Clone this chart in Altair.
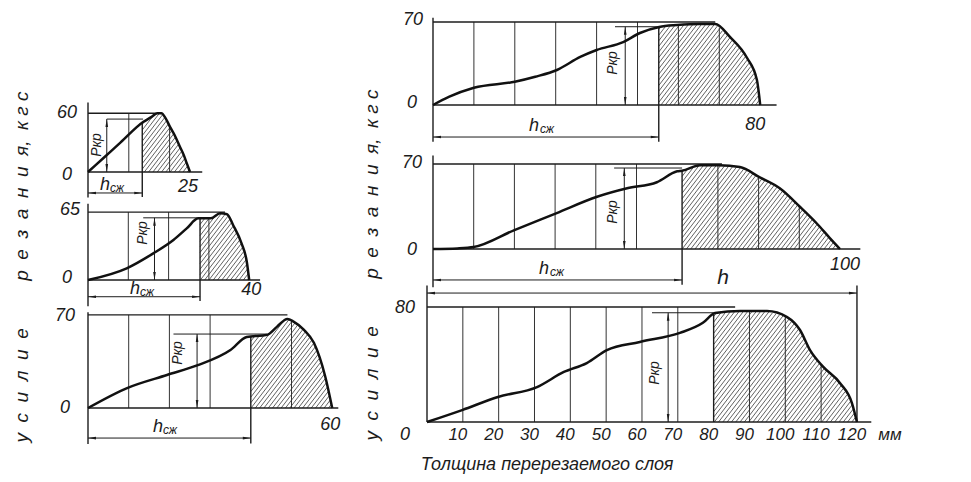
import altair as alt
import numpy as np
import pandas as pd

# ---------------- values ----------------
# cutting force curves: layer thickness (mm) -> force (kgf)
L1_x = [0, 4, 8, 13.5, 15.5, 17, 18, 19, 20.1, 21.3, 22.5, 23.5, 24.2, 25]
L1_y = [0, 15.1, 30.2, 51, 56, 60, 60, 55, 46, 37, 26, 17, 9, 0]

L2_x = [0, 9.6, 16.2, 21.2, 24.5, 27.4, 30.5, 32.8, 34.5, 36, 38.1, 39.4, 40]
L2_y = [0, 11.2, 25.5, 38.3, 49.4, 59, 59, 63.8, 63, 52.6, 35, 17.5, 0]

L3_x = [0, 9.6, 19.4, 26.8, 35, 39, 44, 46.4, 49, 50.5, 53, 55.5, 58.3, 60]
L3_y = [0, 15, 24.8, 32, 43.6, 53.4, 55, 61, 67, 65, 59, 49, 23.5, 0]

R1_x = [0, 4, 10, 20, 25, 30.3, 36, 40, 46.5, 50.6, 55.3, 59.7, 65.3, 69, 72.6, 76.8, 79.2, 80]
R1_y = [0, 7, 14.5, 19.6, 23.8, 29.5, 40.5, 46.4, 53, 60.7, 65.8, 67.4, 68.3, 68.3, 57.4, 39.6, 21, 0]

R2_x = [0, 6, 10, 20, 30.4, 40.3, 47.7, 55, 60, 61.2, 65.6, 70.3, 75.4, 80.3, 85.2, 90.2, 94.3, 97.5, 100]
R2_y = [0, 0.5, 1.6, 15.6, 29.6, 43, 50, 55, 64, 64.5, 69, 69, 67.5, 59, 50, 34.6, 21, 9, 0]

R3_x = [0, 9.8, 19.8, 30.7, 38.2, 44.6, 50.2, 59.4, 70.6, 77, 80.4, 87.4, 94.9, 100.5, 104.1, 106.9, 110.6, 115.3, 118.6, 120]
R3_y = [0, 8.3, 17.4, 24.3, 34.8, 41, 50, 55.7, 62, 69, 75.8, 77.2, 77.2, 73, 64, 50, 38.3, 27, 13.2, 0]

# panel values: x end, y top, h_szh (start of hatched zone), grid lines
X_MAX = {"L1": 25, "L2": 40, "L3": 60, "R1": 80, "R2": 100, "R3": 120}
Y_MAX = {"L1": 60, "L2": 65, "L3": 70, "R1": 70, "R2": 70, "R3": 80}
H_SZH = {"L1": 13.3, "L2": 27.8, "L3": 40, "R1": 55.2, "R2": 61.2, "R3": 80}
GRID = {"L1": [10, 20], "L2": [10, 20, 30], "L3": [10, 20, 30, 50],
        "R1": [10, 20, 30, 40, 50, 60, 70], "R2": [10, 20, 30, 40, 50, 70, 80, 90],
        "R3": [10, 20, 30, 40, 50, 60, 70, 90, 100, 110]}
TOP_END = {"L1": 17.5, "L2": 34, "L3": 49, "R1": 69, "R2": 71, "R3": 86}
# P_kr arrow: x, level, horizontal line from..to
PKR = {"L1": (4.6, 54, 4.6, 13.5), "L2": (16.5, 59.5, 13.7, 30), "L3": (26.8, 55.6, 21, 44),
       "R1": (47, 66, 44.5, 55.2), "R2": (47, 66.7, 44.5, 61.2), "R3": (67.3, 76, 62.8, 80)}
# dimension line levels (below axis) and axis line extents
DIM_Y = {"L1": -21.4, "L2": -16, "L3": -22.6, "R1": -27, "R2": -25.5}
AXIS_EXT = {"L1": (-26, 71), "L2": (-25, 73), "L3": (-27, 72), "R1": (-31, 73.5),
            "R2": (-31.5, 77), "R3": (0, 95)}
BASE_END = {"L1": 28, "L2": 42.7, "L3": 61.5, "R1": 84, "R2": 105, "R3": 124}
H_DIM = 89.7  # overall h dimension (bottom panel units)
X_TICKS = [10, 20, 30, 40, 50, 60, 70, 80, 90, 100, 110, 120]
CURVES = {"L1": (L1_x, L1_y), "L2": (L2_x, L2_y), "L3": (L3_x, L3_y),
          "R1": (R1_x, R1_y), "R2": (R2_x, R2_y), "R3": (R3_x, R3_y)}
NB = "\u00a0"
Y_TITLE = (NB * 2).join("усилие") + NB * 9 + (NB * 2).join("резания") + "," + NB * 2 + NB.join("кгс")
X_TITLE = "Толщина перерезаемого слоя"

# ---------------- layout (page pixels: origin x, origin y, px per mm, px per kgf) ----------------
LAYOUT = {"L1": (88, 172, 4.08, 0.98), "L2": (88, 280, 4.03, 1.045), "L3": (88, 408, 4.07, 1.33),
          "R1": (433, 105, 4.09, 1.186), "R2": (433, 249, 4.07, 1.214), "R3": (427, 422, 3.583, 1.4375)}
# text labels: (anchor x, anchor y, dx px, dy px, text, font size, angle)
LABELS = {
    "L1": [(0, 60, -21, 0, "60", 18, 0), (0, 0, -21, 3, "0", 18, 0), (25, 0, -2, 15, "25", 18, 0),
           (0, 0, 9, -27, "Pкр", 14, 270), (0, 0, 17, 13, "h", 18, 0), (0, 0, 29, 16, "сж", 12, 0)],
    "L2": [(0, 65, -18, -2, "65", 18, 0), (0, 0, -21, -2, "0", 18, 0), (40, 0, 2, 10, "40", 18, 0),
           (0, 0, 55, -47, "Pкр", 14, 270), (0, 0, 47, 9, "h", 18, 0), (0, 0, 59, 12, "сж", 12, 0),
           (0, 0, -66, -13, Y_TITLE, 19, 270)],
    "L3": [(0, 70, -23, 1, "70", 18, 0), (0, 0, -23, 0, "0", 18, 0), (60, 0, -2, 17, "60", 18, 0),
           (0, 0, 90, -55, "Pкр", 14, 270), (0, 0, 70, 19, "h", 18, 0), (0, 0, 82, 22, "сж", 12, 0)],
    "R1": [(0, 70, -20, -2, "70", 18, 0), (0, 0, -21, -2, "0", 18, 0), (80, 0, -5, 20, "80", 18, 0),
           (0, 0, 180, -42, "Pкр", 14, 270), (0, 0, 101, 21, "h", 18, 0), (0, 0, 114, 24, "сж", 12, 0)],
    "R2": [(0, 70, -21, -1, "70", 18, 0), (0, 0, -21, 1, "0", 18, 0), (100, 0, 5, 16, "100", 18, 0),
           (0, 0, 180, -37, "Pкр", 14, 270), (0, 0, 111, 20, "h", 18, 0), (0, 0, 124, 23, "сж", 12, 0),
           (0, 0, -61, 16, Y_TITLE, 19, 270)],
    "R3": [(0, 80, -22, 1, "80", 18, 0), (0, 0, -22, 13, "0", 18, 0), (120, 0, 33, 13, "мм", 17, 0),
           (0, 0, 228, -49, "Pкр", 14, 270), (0, 0, 296, -144, "h", 21, 0),
           (0, 0, 120, 43, X_TITLE, 18, 0)]
           + [(t, 0, -5, 13, str(t), 17, 0) for t in X_TICKS],
}

ARROW_PATHS = ["M0,0L2,-0.33L2,0.33Z", "M0,0L-2,-0.33L-2,0.33Z",
               "M0,0L-0.33,2L0.33,2Z", "M0,0L-0.33,-2L0.33,-2Z"]
FONT = "Liberation Sans"
INK = "#1c1c1c"


def curve_at(key, x):
    cx, cy = CURVES[key]
    return float(np.interp(x, cx, cy))


def hatch(key, gap=4.3, slope=1.3):
    cx, cy = CURVES[key]
    _, _, sx, sy = LAYOUT[key]
    cu = np.array(cx) * sx
    cv = np.array(cy) * sy
    u0, u1 = H_SZH[key] * sx, X_MAX[key] * sx
    c = u0 - cv.max() / slope
    segs = []
    while c < u1:
        us = max(c, u0)
        uu = np.arange(us, u1, 0.2)
        vv = slope * (uu - c)
        vc = np.interp(uu, cu, cv)
        inside = vv <= vc + 0.01
        if inside.size > 1 and inside[0]:
            idx = int(np.argmax(~inside)) if (~inside).any() else len(inside)
            ue = uu[max(idx - 1, 0)]
            if ue > us:
                segs.append((us / sx, slope * (us - c) / sy, ue / sx, slope * (ue - c) / sy))
        c += gap
    return pd.DataFrame(segs, columns=["x", "y", "x2", "y2"])


def panel(key):
    ox, oy, sx, sy = LAYOUT[key]
    xm, ym = X_MAX[key], Y_MAX[key]
    xs = alt.Scale(domain=[0, xm], range=[ox - 8, ox - 8 + xm * sx], nice=False, zero=False)
    ys = alt.Scale(domain=[0, ym], range=[oy - 8, oy - 8 - ym * sy], nice=False, zero=False)

    def X(f="x"):
        return alt.X(f"{f}:Q", scale=xs, axis=None)

    def Y(f="y"):
        return alt.Y(f"{f}:Q", scale=ys, axis=None)

    hs = H_SZH[key]
    frame, grid, dims, arrows = [], [], [], []
    a0, a1 = AXIS_EXT[key]
    frame.append((0, a0, 0, a1))
    frame.append((0, 0, BASE_END[key], 0))
    frame.append((0, ym, TOP_END[key], ym))
    for g in GRID[key]:
        top = ym if g < hs else curve_at(key, g)
        grid.append((g, 0, g, top))
    pxk, pyk, pa, pb = PKR[key]
    dims.append((pxk, 0, pxk, pyk))
    dims.append((pa, pyk, pb, pyk))
    arrows += [(pxk, 0, "D"), (pxk, pyk, "U")]
    if key in DIM_Y:
        d = DIM_Y[key]
        frame.append((hs, d - 4, hs, curve_at(key, hs)))
        dims.append((0, d, hs, d))
        arrows += [(0, d, "L"), (hs, d, "R")]
    else:
        frame.append((hs, 0, hs, curve_at(key, hs)))
        dims.append((0, H_DIM, xm, H_DIM))
        frame.append((xm, 0, xm, AXIS_EXT[key][1]))
        arrows += [(0, H_DIM, "L"), (xm, H_DIM, "R")]
    cols = ["x", "y", "x2", "y2"]
    f_df = pd.DataFrame(frame, columns=cols)
    g_df = pd.DataFrame(grid, columns=cols)
    d_df = pd.DataFrame(dims, columns=cols)
    a_df = pd.DataFrame(arrows, columns=["x", "y", "dir"])
    h_df = hatch(key)
    c_df = pd.DataFrame({"x": CURVES[key][0], "y": CURVES[key][1]})
    t_rows = []
    for ax_, ay_, dx, dy, txt, fs, ang in LABELS[key]:
        t_rows.append((ax_ + dx / sx, ay_ - dy / sy, txt, fs, ang))
    t_df = pd.DataFrame(t_rows, columns=["x", "y", "t", "fs", "ang"])

    def rules(df, w, color):
        return alt.Chart(df).mark_rule(strokeWidth=w, color=color).encode(
            x=X(), y=Y(), x2="x2:Q", y2="y2:Q")

    hatch_l = rules(h_df, 0.8, "#3a3a3a")
    grid_l = rules(g_df, 1.0, "#333333")
    frame_l = rules(f_df, 1.4, INK)
    dim_l = rules(d_df, 1.0, INK)
    curve_l = alt.Chart(c_df).mark_line(interpolate="monotone", strokeWidth=2.5, color="#111111").encode(
        x=X(), y=Y())
    arrow_l = alt.Chart(a_df).mark_point(filled=True, opacity=1, color=INK, size=64).encode(
        x=X(), y=Y(),
        shape=alt.Shape("dir:N", scale=alt.Scale(domain=["L", "R", "U", "D"], range=ARROW_PATHS),
                        legend=None))
    text_l = alt.Chart(t_df).mark_text(font=FONT, fontStyle="italic", color=INK,
                                       align="center", baseline="middle").encode(
        x=X(), y=Y(), text="t:N",
        size=alt.Size("fs:Q", scale=None),
        angle=alt.Angle("ang:Q", scale=None))
    return alt.layer(hatch_l, grid_l, frame_l, dim_l, curve_l, arrow_l, text_l)


chart = alt.layer(*[panel(k) for k in ["L1", "L2", "L3", "R1", "R2", "R3"]]).resolve_scale(
    x="independent", y="independent").properties(
    width=955, height=466, autosize=alt.AutoSizeParams(type="none"), padding=0,
    background="white").configure_view(stroke=None)

chart.save("out.html", embed_options={"renderer": "svg", "actions": False})
